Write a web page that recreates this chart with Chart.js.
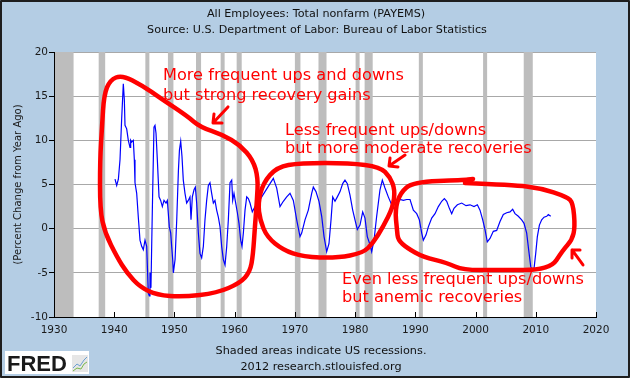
<!DOCTYPE html>
<html>
<head>
<meta charset="utf-8">
<script src="https://cdn.jsdelivr.net/npm/chart.js@4.4.1/dist/chart.umd.min.js"></script>
<style>
  html, body { margin: 0; padding: 0; background: #b4cde4; }
  canvas { display: block; }
</style>
</head>
<body>
<canvas id="chart" width="630" height="378" style="width:630px;height:378px"></canvas>
<script>
// PAYEMS, percent change from year ago
const years = [
  1940.13, 1940.41, 1940.69, 1940.96, 1941.24, 1941.51, 1941.68, 1941.79, 1942.07, 1942.34,
  1942.62, 1942.73, 1942.9, 1943.17, 1943.34, 1943.45, 1943.73, 1944.0, 1944.28, 1944.56,
  1944.83, 1945.11, 1945.39, 1945.66, 1945.83, 1945.94, 1946.1, 1946.22, 1946.38, 1946.6,
  1946.77, 1946.94, 1947.16, 1947.44, 1947.71, 1947.99, 1948.27, 1948.6, 1948.82, 1949.15,
  1949.38, 1949.54, 1949.71, 1949.82, 1950.1, 1950.38, 1950.66, 1950.83, 1951.04, 1951.25,
  1951.47, 1951.75, 1952.03, 1952.3, 1952.58, 1952.75, 1952.97, 1953.25, 1953.47, 1953.69,
  1953.97, 1954.24, 1954.52, 1954.8, 1955.07, 1955.35, 1955.63, 1955.9, 1956.18, 1956.46,
  1956.73, 1957.01, 1957.29, 1957.57, 1957.84, 1958.12, 1958.4, 1958.68, 1958.95, 1959.23,
  1959.51, 1959.67, 1959.89, 1960.17, 1960.45, 1960.72, 1961.0, 1961.22, 1961.44, 1961.72,
  1962.0, 1962.27, 1962.55, 1962.93, 1963.38, 1963.93, 1964.49, 1965.04, 1965.87, 1966.42,
  1966.98, 1967.53, 1968.08, 1968.64, 1969.19, 1969.74, 1970.3, 1970.85, 1971.13, 1971.68,
  1972.23, 1972.79, 1973.06, 1973.5, 1974.0, 1974.45, 1974.84, 1975.28, 1975.66, 1976.0,
  1976.28, 1976.66, 1977.05, 1977.5, 1977.94, 1978.32, 1978.71, 1979.15, 1979.6, 1979.98,
  1980.37, 1980.81, 1981.26, 1981.64, 1982.02, 1982.47, 1982.75, 1983.14, 1983.58, 1984.13,
  1984.52, 1984.96, 1985.51, 1986.07, 1986.63, 1986.9, 1987.46, 1988.01, 1988.57, 1989.12,
  1989.67, 1990.23, 1990.67, 1991.06, 1991.33, 1991.78, 1992.16, 1992.72, 1993.27, 1993.82,
  1994.38, 1994.82, 1995.21, 1995.65, 1996.04, 1996.42, 1996.98, 1997.7, 1998.42, 1999.08,
  1999.74, 2000.3, 2000.74, 2001.19, 2001.57, 2001.95, 2002.4, 2002.95, 2003.51, 2004.06,
  2004.61, 2005.17, 2005.72, 2006.16, 2006.55, 2007.1, 2007.66, 2008.05, 2008.49, 2008.82,
  2009.16, 2009.43, 2009.71, 2009.99, 2010.26, 2010.6, 2010.98, 2011.37, 2011.81, 2012.08,
  2012.48
];
const pctChange = [
  5.6, 4.9, 5.6, 7.8, 12.5, 16.4, 14.6, 11.7, 11.3, 10.0,
  9.2, 10.0, 9.8, 10.0, 7.8, 5.2, 4.0, 1.3, -1.3, -2.0,
  -2.4, -1.3, -2.0, -7.3, -7.6, -5.0, -6.7, -2.0, 4.0, 11.5,
  11.7, 10.8, 7.8, 3.6, 3.2, 2.5, 3.2, 2.9, 3.2, 0.2,
  -0.5, -2.0, -3.5, -5.0, -3.5, 1.0, 6.6, 8.9, 9.9, 8.2,
  5.5, 4.0, 2.9, 3.2, 3.6, 1.0, 3.6, 4.4, 4.7, 2.9,
  -0.5, -2.8, -3.3, -2.0, 1.0, 3.2, 4.9, 5.2, 4.0, 2.9,
  3.2, 2.1, 1.3, 0.2, -2.0, -3.5, -4.1, -2.0, 1.0, 5.2,
  5.5, 3.2, 4.0, 2.9, 1.8, 0.6, -1.3, -2.0, -0.5, 2.1,
  3.6, 3.4, 2.9, 1.9, 2.5, 3.0, 3.6, 4.2, 5.1, 5.7,
  4.6, 2.5, 3.1, 3.6, 4.0, 3.2, 1.0, -0.9, -0.5, 1.0,
  2.1, 4.0, 4.7, 4.2, 3.1, 1.4, -0.9, -2.6, -1.7, 1.0,
  3.6, 3.1, 3.6, 4.2, 5.1, 5.5, 5.1, 3.8, 2.1, 1.0,
  -0.1, 0.4, 1.9, 1.2, -0.9, -1.8, -2.6, -1.3, 1.4, 4.4,
  5.5, 4.6, 3.6, 2.7, 2.1, 2.9, 3.3, 3.2, 3.3, 3.3,
  2.1, 1.7, 1.0, -0.5, -1.3, -0.7, 0.2, 1.2, 1.7, 2.5,
  3.1, 3.4, 3.1, 2.3, 1.7, 2.3, 2.7, 2.9, 2.6, 2.7,
  2.5, 2.7, 2.1, 1.0, -0.1, -1.5, -1.1, -0.3, -0.2, 0.8,
  1.6, 1.8, 1.9, 2.2, 1.7, 1.4, 1.0, 0.6, -0.5, -2.4,
  -4.3, -4.7, -4.5, -2.8, -0.9, 0.4, 1.0, 1.3, 1.4, 1.6,
  1.4
];

// US recessions (shaded), in decimal years
const recessionStart = [1929.67, 1937.42, 1945.17, 1948.92, 1953.58, 1957.67, 1960.33, 1970.0, 1973.92, 1980.08, 1981.58, 1990.58, 2001.25, 2008.0];
const recessionEnd   = [1933.25, 1938.5, 1945.83, 1949.83, 1954.42, 1958.33, 1961.17, 1970.92, 1975.25, 1980.58, 1982.92, 1991.25, 2001.92, 2009.5];

const xTicks = [1930, 1940, 1950, 1960, 1970, 1980, 1990, 2000, 2010, 2020];

// hand drawn red notes, in [year, percent]
const loopEarly = [[1941.29, 17.4], [1944.78, 16.16], [1947.6, 14.8], [1952.09, 12.76], [1954.24, 11.52], [1958.06, 10.61],
  [1960.89, 9.48], [1963.05, 7.78], [1963.88, 5.74], [1963.71, 3.25], [1963.38, 0.42], [1963.05, -2.98], [1962.55, -4.9],
  [1960.89, -6.15], [1957.07, -7.28], [1951.42, -7.73], [1947.1, -7.51], [1944.28, -6.6], [1942.12, -5.02], [1940.46, -3.21],
  [1938.47, -0.49], [1937.64, 2.12], [1937.64, 7.78], [1937.97, 11.51], [1938.3, 15.14], [1939.3, 16.83]];
const loopMiddle = [[1964.71, 5.17], [1967.03, 6.99], [1970.85, 7.44], [1979.15, 7.44], [1984.13, 6.99], [1985.8, 5.85],
  [1986.63, 4.38], [1986.29, 2.46], [1984.63, 0.19], [1982.97, -1.62], [1981.31, -2.75], [1977.0, -3.32], [1971.35, -3.2],
  [1968.03, -2.41], [1965.37, -0.94], [1964.21, 0.98], [1963.88, 2.91]];
const loopLate = [[1998.25, 5.17], [2006.22, 4.95], [2010.7, 4.61], [2015.19, 3.59], [2016.18, 2.91], [2016.52, 0.19],
  [2016.02, -1.28], [2014.52, -2.41], [2012.36, -4.68], [2003.56, -4.68], [1997.92, -4.68], [1995.26, -3.88],
  [1991.28, -3.2], [1988.62, -2.18], [1987.12, -1.28], [1986.96, -0.15], [1986.63, 2.12], [1987.46, 4.04],
  [1989.61, 5.29], [1997.92, 5.51], [1999.58, 5.63]];
const arrows = [
  [[1958.89, 13.78], [1956.4, 11.97], [1956.57, 12.99], [1957.9, 11.97]],
  [[1988.29, 8.34], [1985.63, 7.1], [1985.8, 8.0], [1987.12, 6.99]],
  [[2017.84, -4.11], [2016.02, -2.41], [2017.35, -2.41], [2016.02, -3.32]]
];
const notes = [
  { lines: ['More frequent ups and downs', 'but strong recovery gains'], at: [1948.1, 17.29], gap: 2.27 },
  { lines: ['Less frequent ups/downs', 'but more moderate recoveries'], at: [1968.36, 11.06], gap: 2.04 },
  { lines: ['Even less frequent ups/downs', 'but anemic recoveries'], at: [1977.82, -5.81], gap: 2.04 }
];

const BG = '#b4cde4';
const FONT = '"DejaVu Sans", Verdana, sans-serif';

function fitSize(ctx, text, width, weight) {
  ctx.font = weight + ' 20px ' + FONT;
  return 20 * width / ctx.measureText(text).width;
}

function smoothLoop(ctx, pts, closed) {
  const mid = (a, b) => [(a[0] + b[0]) / 2, (a[1] + b[1]) / 2];
  ctx.beginPath();
  if (closed) {
    const n = pts.length;
    let m = mid(pts[n - 1], pts[0]);
    ctx.moveTo(m[0], m[1]);
    for (let i = 0; i < n; i++) {
      const nm = mid(pts[i], pts[(i + 1) % n]);
      ctx.quadraticCurveTo(pts[i][0], pts[i][1], nm[0], nm[1]);
    }
  } else {
    ctx.moveTo(pts[0][0], pts[0][1]);
    for (let i = 1; i < pts.length - 1; i++) {
      const nm = mid(pts[i], pts[i + 1]);
      ctx.quadraticCurveTo(pts[i][0], pts[i][1], nm[0], nm[1]);
    }
    const last = pts[pts.length - 1];
    ctx.lineTo(last[0], last[1]);
  }
  ctx.stroke();
}

const fredDecor = {
  id: 'fredDecor',
  beforeDraw(chart) {
    const { ctx, chartArea: a } = chart;
    ctx.save();
    ctx.fillStyle = BG;
    ctx.fillRect(0, 0, chart.width, chart.height);
    ctx.fillStyle = '#ffffff';
    ctx.fillRect(a.left, a.top, a.right - a.left, a.bottom - a.top);
    ctx.restore();
  },
  beforeDatasetsDraw(chart) {
    const { ctx, chartArea: a, scales: { x } } = chart;
    ctx.save();
    ctx.fillStyle = '#bdbdbd';
    recessionStart.forEach((s, i) => {
      const x0 = Math.max(x.getPixelForValue(s), a.left + 1);
      const x1 = Math.max(x.getPixelForValue(recessionEnd[i]), x0 + 4);
      ctx.fillRect(x0, a.top, x1 - x0, a.bottom - a.top);
    });
    ctx.restore();
  },
  afterDatasetsDraw(chart) {
    const { ctx, chartArea: a, scales: { x } } = chart;
    ctx.save();
    ctx.strokeStyle = '#000';
    ctx.lineWidth = 1;
    ctx.beginPath();
    ctx.moveTo(a.left + 0.5, a.top);
    ctx.lineTo(a.left + 0.5, a.bottom + 0.5);
    ctx.lineTo(a.right, a.bottom + 0.5);
    xTicks.forEach(t => {
      const px = Math.round(x.getPixelForValue(t)) + 0.5;
      ctx.moveTo(px, a.bottom);
      ctx.lineTo(px, a.bottom - 5);
    });
    ctx.stroke();
    ctx.restore();
  },
  afterDraw(chart) {
    const { ctx, scales: { x, y } } = chart;
    const W = chart.width, H = chart.height;
    const P = p => [x.getPixelForValue(p[0]), y.getPixelForValue(p[1])];
    ctx.save();

    // titles
    ctx.fillStyle = '#111';
    ctx.textAlign = 'center';
    ctx.textBaseline = 'middle';
    const ts = fitSize(ctx, 'Source: U.S. Department of Labor: Bureau of Labor Statistics', 340, 'normal');
    ctx.font = ts.toFixed(2) + 'px ' + FONT;
    ctx.fillText('All Employees: Total nonfarm (PAYEMS)', 316, 14);
    ctx.fillText('Source: U.S. Department of Labor: Bureau of Labor Statistics', 317, 30);

    const bs = fitSize(ctx, 'Shaded areas indicate US recessions.', 211, 'normal');
    ctx.font = bs.toFixed(2) + 'px ' + FONT;
    ctx.fillText('Shaded areas indicate US recessions.', 321, 351);
    ctx.fillText('2012 research.stlouisfed.org', 321, 367);

    // FRED logo
    ctx.fillStyle = '#ffffff';
    ctx.fillRect(5, 351, 84, 23);
    ctx.fillStyle = '#1a1a1a';
    ctx.textAlign = 'left';
    ctx.textBaseline = 'alphabetic';
    ctx.font = 'bold 22px "Liberation Sans", Arial, sans-serif';
    ctx.fillText('FRED', 7, 371);
    ctx.fillStyle = '#e6e6e6';
    ctx.fillRect(72, 355, 16, 17);
    ctx.lineWidth = 1;
    ctx.strokeStyle = '#6a9fd0';
    ctx.beginPath();
    ctx.moveTo(73, 368); ctx.lineTo(77, 364); ctx.lineTo(80, 366); ctx.lineTo(84, 360); ctx.lineTo(87, 357);
    ctx.stroke();
    ctx.strokeStyle = '#7ab84a';
    ctx.beginPath();
    ctx.moveTo(73, 371); ctx.lineTo(77, 368); ctx.lineTo(81, 369); ctx.lineTo(84, 364); ctx.lineTo(87, 362);
    ctx.stroke();

    // red notes
    ctx.strokeStyle = '#ff0000';
    ctx.lineWidth = 4.5;
    ctx.lineJoin = 'round';
    ctx.lineCap = 'round';
    smoothLoop(ctx, loopEarly.map(P), true);
    smoothLoop(ctx, loopMiddle.map(P), true);
    smoothLoop(ctx, loopLate.map(P), false);
    ctx.lineWidth = 3;
    arrows.forEach(ar => {
      const [tail, tip, b1, b2] = ar.map(P);
      ctx.beginPath();
      ctx.moveTo(tail[0], tail[1]); ctx.lineTo(tip[0], tip[1]);
      ctx.moveTo(b1[0], b1[1]); ctx.lineTo(tip[0], tip[1]); ctx.lineTo(b2[0], b2[1]);
      ctx.stroke();
    });

    ctx.fillStyle = '#ff0000';
    ctx.textAlign = 'left';
    ctx.textBaseline = 'middle';
    const ns = fitSize(ctx, notes[0].lines[0], 241, 'normal');
    ctx.font = ns.toFixed(2) + 'px ' + FONT;
    notes.forEach(n => {
      n.lines.forEach((t, i) => {
        const p = P([n.at[0], n.at[1] - i * n.gap]);
        ctx.fillText(t, p[0], p[1]);
      });
    });

    // outer frame
    ctx.strokeStyle = '#1e1e1e';
    ctx.lineWidth = 2;
    ctx.strokeRect(1, 1, W - 2, H - 2);
    ctx.restore();
  }
};

const tickFont = { family: FONT, size: 10.5 };

new Chart(document.getElementById('chart'), {
  type: 'line',
  data: {
    datasets: [{
      data: years.map((yr, i) => ({ x: yr, y: pctChange[i] })),
      borderColor: '#0000ff',
      borderWidth: 1.2,
      pointRadius: 0,
      tension: 0,
      fill: false
    }]
  },
  options: {
    responsive: false,
    animation: false,
    layout: { padding: { left: 8, right: 34, top: 52, bottom: 0 } },
    plugins: { legend: { display: false }, tooltip: { enabled: false } },
    scales: {
      x: {
        type: 'linear',
        min: 1930,
        max: 2020,
        afterBuildTicks: s => { s.ticks = xTicks.map(v => ({ value: v })); },
        ticks: { color: '#1a1a1a', font: tickFont, padding: 7, maxRotation: 0, callback: v => String(v) },
        grid: { drawOnChartArea: false, drawTicks: false },
        border: { color: '#000' },
        afterFit: s => { s.height = 61; }
      },
      y: {
        min: -10,
        max: 20,
        ticks: { stepSize: 5, color: '#1a1a1a', font: tickFont, padding: 1 },
        grid: { color: '#a8a8a8', tickColor: '#000', tickLength: 5 },
        border: { color: '#000' },
        title: {
          display: true,
          text: '(Percent Change from Year Ago)',
          color: '#1a1a1a',
          font: { family: FONT, size: 10 },
          padding: { top: 4, bottom: 0 }
        },
        afterFit: s => { s.width = 46; }
      }
    }
  },
  plugins: [fredDecor]
});
</script>
</body>
</html>
